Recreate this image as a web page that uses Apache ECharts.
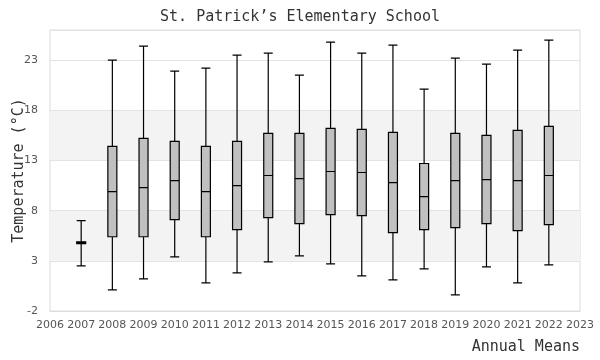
<!DOCTYPE html>
<html>
<head>
<meta charset="utf-8">
<script src="https://cdn.jsdelivr.net/npm/echarts@6/dist/echarts.min.js"></script>
<style>html,body{margin:0;padding:0;background:#fff}#c{width:600px;height:360px}</style>
</head>
<body>
<div id="c"></div>
<script>
var categories = ['2006','2007','2008','2009','2010','2011','2012','2013','2014','2015','2016','2017','2018','2019','2020','2021','2022','2023'];
var boxYears = ['2007','2008','2009','2010','2011','2012','2013','2014','2015','2016','2017','2018','2019','2020','2021','2022'];
var mins    = [2.5, 0.1, 1.2, 3.4, 0.8, 1.8, 2.9, 3.5, 2.7, 1.5, 1.1, 2.2, -0.4, 2.4, 0.8, 2.6];
var q1s     = [4.7, 5.4, 5.4, 7.1, 5.4, 6.1, 7.3, 6.7, 7.6, 7.5, 5.8, 6.1, 6.3, 6.7, 6.0, 6.6];
var medians = [4.8, 9.9, 10.3, 11.0, 9.9, 10.5, 11.5, 11.2, 11.9, 11.8, 10.8, 9.4, 11.0, 11.1, 11.0, 11.5];
var q3s     = [4.9, 14.4, 15.2, 14.9, 14.4, 14.9, 15.7, 15.7, 16.2, 16.1, 15.8, 12.7, 15.7, 15.5, 16.0, 16.4];
var maxs    = [7.0, 23.0, 24.4, 21.9, 22.2, 23.5, 23.7, 21.5, 24.8, 23.7, 24.5, 20.1, 23.2, 22.6, 24.0, 25.0];
var yTicks = { min: -2, max: 26, interval: 5 };

var boxData = boxYears.map(function (y, i) {
  return [y, mins[i], q1s[i], medians[i], q3s[i], maxs[i]];
});

var chart = echarts.init(document.getElementById('c'), null, { renderer: 'canvas' });
chart.setOption({
  animation: false,
  backgroundColor: '#fff',
  title: {
    text: 'St. Patrick\u2019s Elementary School',
    left: 'center',
    top: 5,
    textStyle: { fontFamily: 'DejaVu Sans Mono', fontSize: 15, fontWeight: 'normal', color: '#333' }
  },
  grid: { left: 50, right: 20, top: 30, bottom: 49, containLabel: false, outerBoundsMode: 'none', show: true, borderColor: '#dcdcdc', borderWidth: 1, backgroundColor: 'transparent' },
  xAxis: {
    type: 'category',
    data: categories,
    boundaryGap: false,
    name: 'Annual Means',
    nameLocation: 'end',
    nameGap: 0,
    nameMoveOverlap: false,
    nameTextStyle: { fontFamily: 'DejaVu Sans Mono', fontSize: 15, color: '#333', align: 'right', verticalAlign: 'top', padding: [29, 0, 0, 0] },
    axisLine: { onZero: false, lineStyle: { color: '#dcdcdc' } },
    axisTick: { show: false },
    axisLabel: { fontFamily: 'DejaVu Sans', fontSize: 11, color: '#555', margin: 9, interval: 0 },
    splitLine: { show: false }
  },
  yAxis: {
    type: 'value',
    min: yTicks.min,
    max: yTicks.max,
    interval: yTicks.interval,
    name: 'Temperature (\u00B0C)',
    nameLocation: 'middle',
    nameGap: 23,
    nameMoveOverlap: false,
    nameTextStyle: { fontFamily: 'DejaVu Sans Mono', fontSize: 15, color: '#333' },
    axisLine: { show: false },
    axisTick: { show: false },
    axisLabel: { fontFamily: 'DejaVu Sans', fontSize: 11, color: '#555', margin: 12, showMaxLabel: false },
    splitLine: { show: true, lineStyle: { color: '#e3e3e3', width: 1 } },
    splitArea: { show: true, areaStyle: { color: ['rgba(255,255,255,0)', '#f3f3f3', 'rgba(255,255,255,0)', '#f3f3f3', 'rgba(255,255,255,0)', 'rgba(255,255,255,0)'] } }
  },
  series: [{
    type: 'boxplot',
    data: boxData,
    encode: { x: 0, y: [1, 2, 3, 4, 5] },
    boxWidth: [9, 9],
    itemStyle: { color: '#c0c0c0', borderColor: '#000', borderWidth: 1.2 },
    emphasis: { disabled: true }
  }]
});
</script>
</body>
</html>
